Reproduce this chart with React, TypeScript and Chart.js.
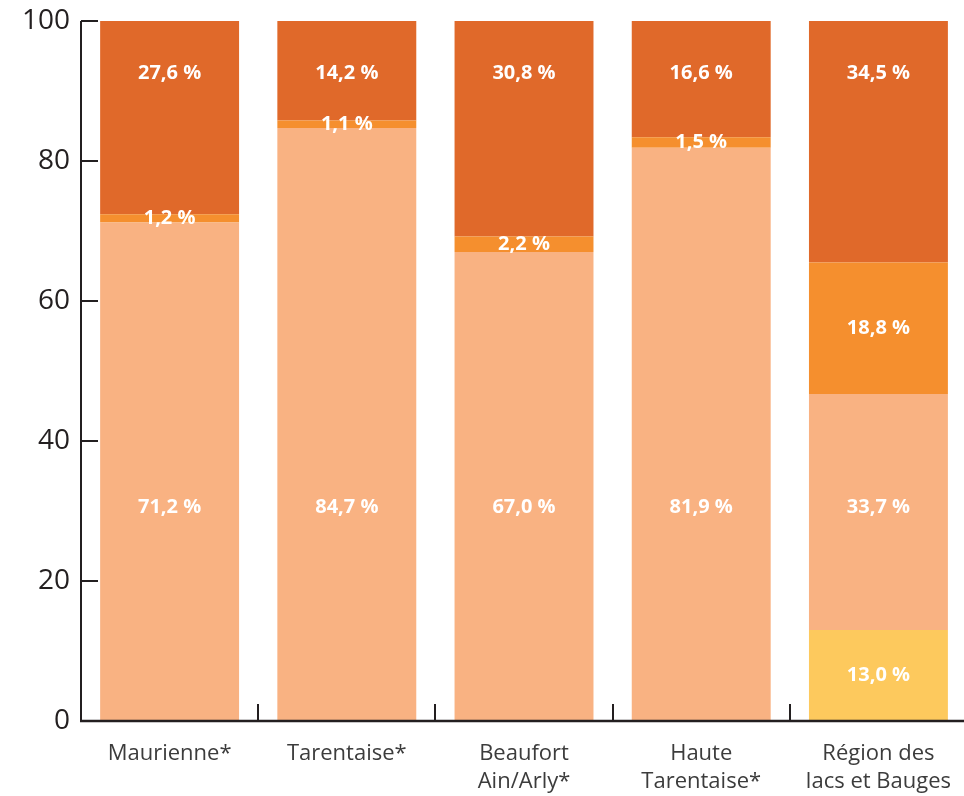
import React, { useEffect, useRef } from "react";
import { Chart, registerables } from "chart.js";

Chart.register(...registerables);

const categories: string[][] = [
  ["Maurienne*"],
  ["Tarentaise*"],
  ["Beaufort", "Ain/Arly*"],
  ["Haute", "Tarentaise*"],
  ["Région des", "lacs et Bauges"],
];

const yellowValues: (number | null)[] = [null, null, null, null, 13.0];
const lightValues: number[] = [71.2, 84.7, 67.0, 81.9, 33.7];
const midValues: number[] = [1.2, 1.1, 2.2, 1.5, 18.8];
const darkValues: number[] = [27.6, 14.2, 30.8, 16.6, 34.5];

const yTicks: number[] = [0, 20, 40, 60, 80, 100];

const COLORS = {
  yellow: "#FDC95D",
  light: "#F9B282",
  mid: "#F58F2E",
  dark: "#E0692A",
};

const fmt = (v: number) => v.toFixed(1).replace(".", ",") + " %";

const axisPlugin = {
  id: "customAxes",
  afterDatasetsDraw(chart: any) {
    const { ctx, chartArea, scales } = chart;
    const x = scales.x;
    const y = scales.y;
    ctx.save();
    ctx.strokeStyle = "#231f20";
    ctx.lineWidth = 2;
    const left = chartArea.left;
    const bottom = chartArea.bottom;
    ctx.beginPath();
    ctx.moveTo(left, y.getPixelForValue(100));
    ctx.lineTo(left, bottom + 1);
    ctx.stroke();
    ctx.lineWidth = 2.5;
    ctx.beginPath();
    ctx.moveTo(left - 1, bottom);
    ctx.lineTo(chartArea.right + 5, bottom);
    ctx.stroke();
    ctx.lineWidth = 2;
    yTicks.forEach((t) => {
      if (t === 0) return;
      const py = Math.round(y.getPixelForValue(t));
      ctx.beginPath();
      ctx.moveTo(left, py);
      ctx.lineTo(left + 17, py);
      ctx.stroke();
    });
    for (let i = 1; i < categories.length; i++) {
      const px = Math.round((x.getPixelForValue(i - 1) + x.getPixelForValue(i)) / 2);
      ctx.beginPath();
      ctx.moveTo(px, bottom);
      ctx.lineTo(px, bottom - 17);
      ctx.stroke();
    }
    ctx.restore();
  },
};

const labelPlugin = {
  id: "segmentLabels",
  afterDatasetsDraw(chart: any) {
    const { ctx, scales } = chart;
    ctx.save();
    ctx.fillStyle = "#ffffff";
    ctx.font = "bold 20px 'Open Sans', sans-serif";
    ctx.textAlign = "center";
    ctx.textBaseline = "middle";
    chart.data.datasets.forEach((ds: any, di: number) => {
      const meta = chart.getDatasetMeta(di);
      meta.data.forEach((el: any, i: number) => {
        const v = ds.data[i];
        if (v === null || v === undefined) return;
        let py: number;
        if (typeof ds.labelAt === "number") {
          py = scales.y.getPixelForValue(ds.labelAt);
        } else {
          py = (el.y + el.base) / 2;
        }
        ctx.fillText(fmt(v), el.x, py);
      });
    });
    ctx.restore();
  },
};

export default function App() {
  const ref = useRef<HTMLCanvasElement | null>(null);
  useEffect(() => {
    if (!ref.current) return;
    const chart = new Chart(ref.current, {
      type: "bar",
      data: {
        labels: categories,
        datasets: [
          { label: "yellow", data: yellowValues, backgroundColor: COLORS.yellow },
          { label: "light", data: lightValues, backgroundColor: COLORS.light, labelAt: 30.6 } as any,
          { label: "mid", data: midValues, backgroundColor: COLORS.mid },
          { label: "dark", data: darkValues, backgroundColor: COLORS.dark, labelAt: 92.6 } as any,
        ],
      },
      options: {
        responsive: false,
        animation: false,
        devicePixelRatio: 1,
        layout: { padding: { top: 21, left: 0, right: 0, bottom: 0 } },
        plugins: { legend: { display: false }, tooltip: { enabled: false } },
        datasets: { bar: { barPercentage: 0.784, categoryPercentage: 1, borderWidth: 0 } },
        scales: {
          x: {
            stacked: true,
            grid: { display: false, drawTicks: false },
            border: { display: false },
            ticks: {
              color: "#3c3c3c",
              font: { family: "'Open Sans', sans-serif", size: 22, lineHeight: 1.27 },
              padding: 19,
              maxRotation: 0,
              autoSkip: false,
            },
            afterFit: (scale: any) => {
              scale.height = 796 - 721;
            },
          },
          y: {
            stacked: true,
            min: 0,
            max: 100,
            grid: { display: false, drawTicks: false },
            border: { display: false },
            ticks: {
              stepSize: 20,
              color: "#231f20",
              font: { family: "'Open Sans', sans-serif", size: 28, lineHeight: 0.6 },
              padding: 11,
            },
            afterFit: (scale: any) => {
              scale.width = 81;
            },
          },
        },
      },
      plugins: [axisPlugin, labelPlugin],
    } as any);
    return () => chart.destroy();
  }, []);
  return (
    <div style={{ position: "fixed", left: 0, top: 0, width: 964, height: 796, overflow: "hidden", background: "#fff" }}>
      <canvas ref={ref} width={970} height={796} style={{ display: "block" }} />
    </div>
  );
}
